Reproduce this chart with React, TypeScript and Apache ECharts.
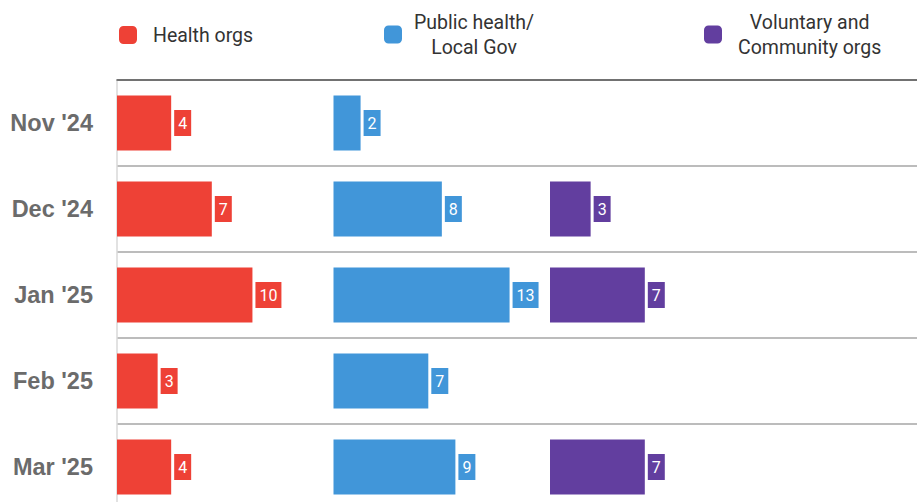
import React, { useEffect, useRef } from "react";
import * as echarts from "echarts";

const months = ["Nov '24", "Dec '24", "Jan '25", "Feb '25", "Mar '25"];
const healthOrgs = [4, 7, 10, 3, 4];
const publicHealth = [2, 8, 13, 7, 9];
const voluntary: (number | null)[] = [null, 3, 7, null, 7];

const seriesNames = ["Health orgs", "Public health/\nLocal Gov", "Voluntary and\nCommunity orgs"];
const colors = ["#EE4136", "#4196D9", "#623E9F"];
const xMax = 16;

export default function App() {
  const ref = useRef<HTMLDivElement>(null);
  useEffect(() => {
    const chart = echarts.init(ref.current!, null, { renderer: "svg" });
    const font = "Roboto, 'Liberation Sans', sans-serif";
    const panelLeft = [117, 333.5, 550];
    const panelW = 216.7;
    const gridTop = 80;
    const gridH = 430;

    const grids: any[] = [{ left: 117, right: 0, top: gridTop, height: gridH }];
    const xAxes: any[] = [
      {
        gridIndex: 0,
        type: "value",
        position: "top",
        min: 0,
        max: 1,
        axisLine: { show: true, lineStyle: { color: "#595959", width: 1.5 } },
        axisTick: { show: false },
        axisLabel: { show: false },
        splitLine: { show: false },
      },
    ];
    const yAxes: any[] = [
      {
        gridIndex: 0,
        type: "category",
        inverse: true,
        data: months,
        axisLine: { show: true, lineStyle: { color: "#d9d9d9", width: 1.5 } },
        axisTick: { show: false },
        axisLabel: {
          margin: 24,
          fontFamily: "'Liberation Sans', Arial, sans-serif",
          fontWeight: "bold",
          fontSize: 23.5,
          color: "#6b6b6b",
        },
        splitLine: { show: true, lineStyle: { color: "#a6a6a6", width: 1.5 } },
      },
    ];
    const datasets = [healthOrgs, publicHealth, voluntary];
    const series: any[] = [];
    datasets.forEach((d, i) => {
      grids.push({ left: panelLeft[i], width: panelW, top: gridTop, height: gridH });
      xAxes.push({ gridIndex: i + 1, type: "value", min: 0, max: xMax, show: false });
      yAxes.push({ gridIndex: i + 1, type: "category", inverse: true, data: months, show: false });
      series.push({
        name: seriesNames[i],
        type: "bar",
        xAxisIndex: i + 1,
        yAxisIndex: i + 1,
        data: d.map((v) => (v == null ? "-" : v)),
        barWidth: 55,
        itemStyle: { color: colors[i] },
        label: {
          show: true,
          position: "right",
          distance: 3,
          color: "#ffffff",
          fontFamily: font,
          fontSize: 16,
          backgroundColor: colors[i],
          padding: [5, 4, 5, 4],
        },
      });
    });

    const legendLefts = [119, 384, 704];
    const legendTops = [25, 12, 12];
    const legendPads = [11, 7, 11];
    const legends = seriesNames.map((n, i) => ({
      data: [n],
      left: legendLefts[i],
      top: legendTops[i],
      padding: 0,
      icon: "roundRect",
      itemWidth: 18,
      itemHeight: 18,
      selectedMode: false,
      formatter: (name: string) =>
        name
          .split("\n")
          .map((l) => `{a|${l}}`)
          .join("\n"),
      textStyle: {
        padding: [0, 0, 0, legendPads[i]],
        rich: {
          a: {
            fontFamily: font,
            fontSize: 19.5,
            color: "#333333",
            lineHeight: 25,
            align: "center",
          },
        },
      },
    }));

    chart.setOption({
      animation: false,
      grid: grids,
      xAxis: xAxes,
      yAxis: yAxes,
      legend: legends,
      series,
    });
    return () => chart.dispose();
  }, []);
  return (
    <div style={{ position: "absolute", left: 0, top: 0, width: 917, height: 502, overflow: "hidden", background: "#fff" }}>
      <div ref={ref} style={{ width: 917, height: 520 }} />
    </div>
  );
}
